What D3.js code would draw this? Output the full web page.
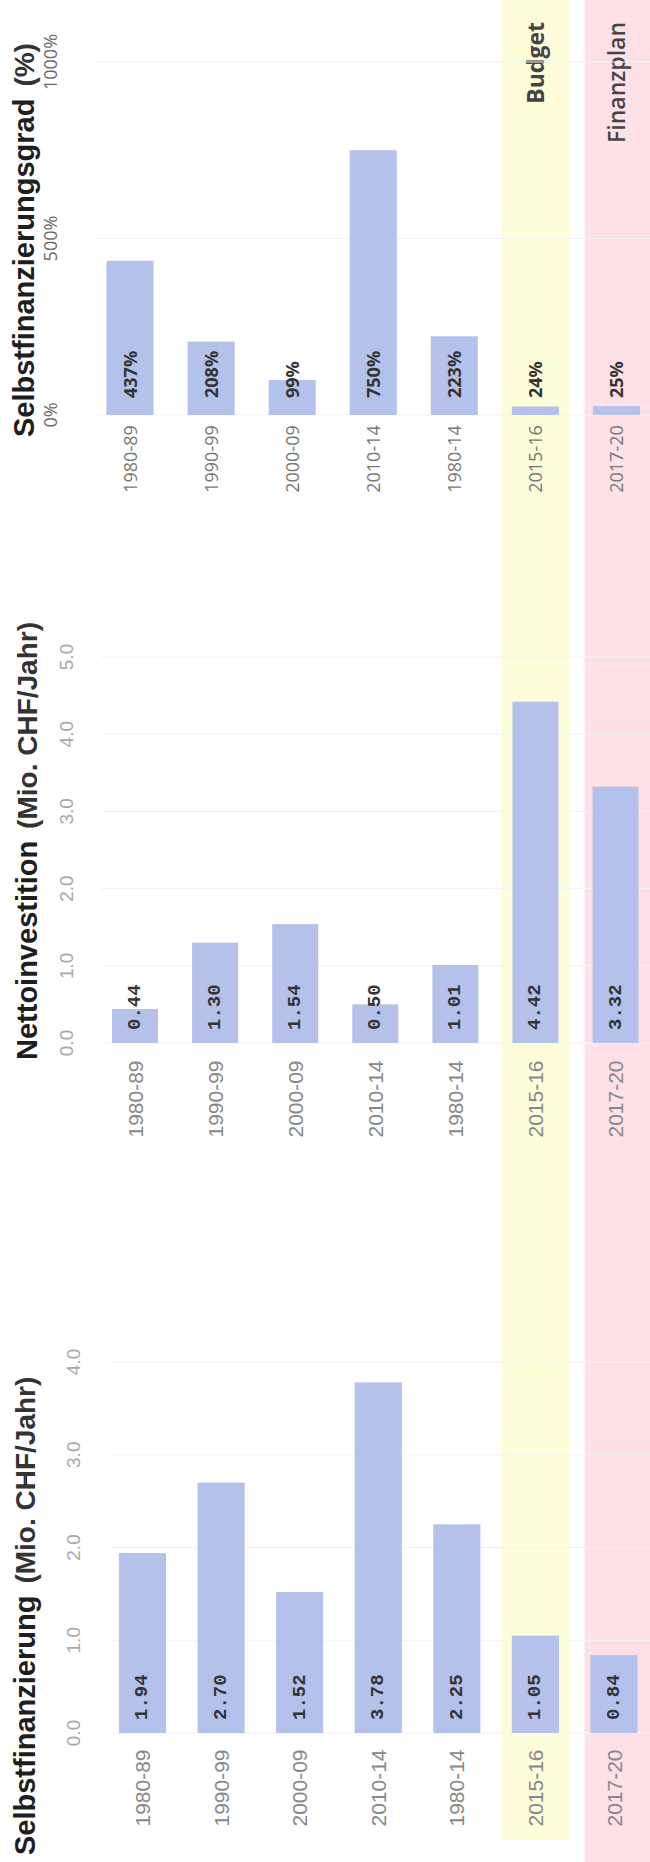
<!DOCTYPE html>
<html>
<head>
<meta charset="utf-8">
<script src="https://cdn.jsdelivr.net/npm/d3@7"></script>
<style>
  body { margin: 0; background: #fff; }
  svg { display: block; }
</style>
</head>
<body>
<svg width="650" height="1862"></svg>
<script>
(function () {
    'use strict'

    // data
    const categories = ['1980-89', '1990-99', '2000-09', '2010-14', '1980-14', '2015-16', '2017-20'];
    const selbstfinanzierungsgrad = [437, 208, 99, 750, 223, 24, 25];
    const nettoinvestition = [0.44, 1.30, 1.54, 0.50, 1.01, 4.42, 3.32];
    const selbstfinanzierung = [1.94, 2.70, 1.52, 3.78, 2.25, 1.05, 0.84];
    const gradTicks = [0, 500, 1000];
    const invTicks = [0, 1, 2, 3, 4, 5];
    const finTicks = [0, 1, 2, 3, 4];
    const highlightCats = ['2015-16', '2017-20'];
    const highlightLabels = ['Budget', 'Finanzplan'];

    const BAR = '#b4c1eb';

    let svg = d3.select('svg');

    // panel layouts (chart is drawn turned by 90 degrees)
    let panels = [
        {
            values: selbstfinanzierungsgrad, ticks: gradTicks,
            fmtTick: d => d + '%', fmtVal: d => d + '%',
            x: [89.5, 657], pad: 0.42, y0: 415, y1: 62, domain: [0, 1000],
            title: 'Selbstfinanzierungsgrad', unit: '(%)', titleX: 34, titleY: 437,
            tickX: 50, catY: 459, valGap: 17, font: "'Open Sans', sans-serif",
            tickColor: '#6a6a6a', tickSize: 18, catSize: 18, valSize: 18,
            valFont: "'Open Sans', sans-serif", catColor: '#777'
        },
        {
            values: nettoinvestition, ticks: invTicks,
            fmtTick: d3.format('.1f'), fmtVal: d3.format('.2f'),
            x: [95, 655.6], pad: 0.425, y0: 1043, y1: 657, domain: [0, 5],
            title: 'Nettoinvestition', unit: '(Mio. CHF/Jahr)', titleX: 37, titleY: 1060,
            tickX: 66, catY: 1099, valGap: 13, font: "'Liberation Sans', Arial, sans-serif",
            tickColor: '#a8a8a8', tickSize: 19, catSize: 21, valSize: 19,
            valFont: "'Liberation Mono', 'Courier New', monospace", catColor: '#888'
        },
        {
            values: selbstfinanzierung, ticks: finTicks,
            fmtTick: d3.format('.1f'), fmtVal: d3.format('.2f'),
            x: [103.2, 653.3], pad: 0.40, y0: 1733, y1: 1362, domain: [0, 4],
            title: 'Selbstfinanzierung', unit: '(Mio. CHF/Jahr)', titleX: 35, titleY: 1855,
            tickX: 73, catY: 1788, valGap: 13, font: "'Liberation Sans', Arial, sans-serif",
            tickColor: '#a8a8a8', tickSize: 19, catSize: 21, valSize: 19,
            valFont: "'Liberation Mono', 'Courier New', monospace", catColor: '#888'
        }
    ];

    // highlight stripes for budget / plan columns
    let hx = d3.scaleBand().domain(categories).range([95, 655.6])
        .paddingInner(0.425).paddingOuter(0.2125);
    let bandW = 68;
    let bandColors = ['#fdfdd9', '#fde1e7'];
    let bandBottoms = [1840, 1862];

    svg.selectAll('rect.hl')
        .data(highlightCats)
        .enter()
        .append('rect')
        .attr('class', 'hl')
        .attr('x', (d, i) => hx(d) + hx.bandwidth() / 2 - bandW / 2 + (i === 1 ? 3 : 0))
        .attr('y', 0)
        .attr('width', bandW)
        .attr('height', (d, i) => bandBottoms[i])
        .style('fill', (d, i) => bandColors[i]);

    svg.selectAll('text.hl')
        .data(highlightCats)
        .enter()
        .append('text')
        .attr('class', 'hl')
        .attr('transform', (d, i) => 'translate(' + (hx(d) + hx.bandwidth() / 2) + ',' + (i === 0 ? 22 : 22) + ') rotate(-90)')
        .attr('text-anchor', 'end')
        .attr('dominant-baseline', 'central')
        .style('font-family', "'Open Sans', sans-serif")
        .style('font-size', '23px')
        .style('font-weight', (d, i) => i === 0 ? 700 : 600)
        .style('fill', '#444')
        .text((d, i) => highlightLabels[i]);

    function drawPanel(p) {
        let x = d3.scaleBand()
            .domain(categories)
            .range(p.x)
            .paddingInner(p.pad)
            .paddingOuter(p.pad / 2);

        let y = d3.scaleLinear()
            .domain(p.domain)
            .range([p.y0, p.y1]);

        let g = svg.append('g');

        // faint grid lines
        g.selectAll('line.grid')
            .data(p.ticks)
            .enter()
            .append('line')
            .attr('x1', p.x[0] + 6)
            .attr('x2', 650)
            .attr('y1', d => y(d))
            .attr('y2', d => y(d))
            .style('stroke', '#f3f3f3')
            .style('stroke-width', 1);

        // value axis labels
        g.selectAll('text.tick')
            .data(p.ticks)
            .enter()
            .append('text')
            .attr('transform', d => 'translate(' + p.tickX + ',' + y(d) + ') rotate(-90)')
            .attr('text-anchor', 'middle')
            .attr('dominant-baseline', 'central')
            .style('font-family', p.font)
            .style('font-size', p.tickSize + 'px')
            .style('fill', p.tickColor)
            .text(p.fmtTick);

        // bars
        g.selectAll('rect.bar')
            .data(p.values)
            .enter()
            .append('rect')
            .attr('x', (d, i) => x(categories[i]))
            .attr('width', x.bandwidth())
            .attr('y', d => y(d))
            .attr('height', d => y(0) - y(d))
            .style('fill', BAR);

        // value labels, sitting just above the base line
        g.selectAll('text.val')
            .data(p.values)
            .enter()
            .append('text')
            .attr('transform', (d, i) => 'translate(' + (x(categories[i]) + x.bandwidth() / 2) + ',' + (y(0) - p.valGap) + ') rotate(-90)')
            .attr('text-anchor', 'start')
            .attr('dominant-baseline', 'central')
            .style('font-family', p.valFont)
            .style('font-size', p.valSize + 'px')
            .style('font-weight', 'bold')
            .style('fill', '#333')
            .text(p.fmtVal);

        // category labels
        g.selectAll('text.cat')
            .data(categories)
            .enter()
            .append('text')
            .attr('transform', d => 'translate(' + (x(d) + x.bandwidth() / 2) + ',' + p.catY + ') rotate(-90)')
            .attr('text-anchor', 'middle')
            .attr('dominant-baseline', 'central')
            .style('font-family', p.font)
            .style('font-size', p.catSize + 'px')
            .style('fill', p.catColor)
            .text(d => d);

        // title
        let t = g.append('text')
            .attr('transform', 'translate(' + p.titleX + ',' + p.titleY + ') rotate(-90)')
            .attr('text-anchor', 'start')
            .style('font-family', "'Liberation Sans', Arial, sans-serif")
            .style('fill', '#1e1e1e');
        t.append('tspan')
            .style('font-size', '29px')
            .style('font-weight', 'bold')
            .text(p.title);
        t.append('tspan')
            .attr('dx', 12)
            .style('font-size', '28px')
            .style('font-weight', 'bold')
            .style('fill', '#333')
            .text(p.unit);
    }

    panels.forEach(drawPanel);
})();
</script>
</body>
</html>
